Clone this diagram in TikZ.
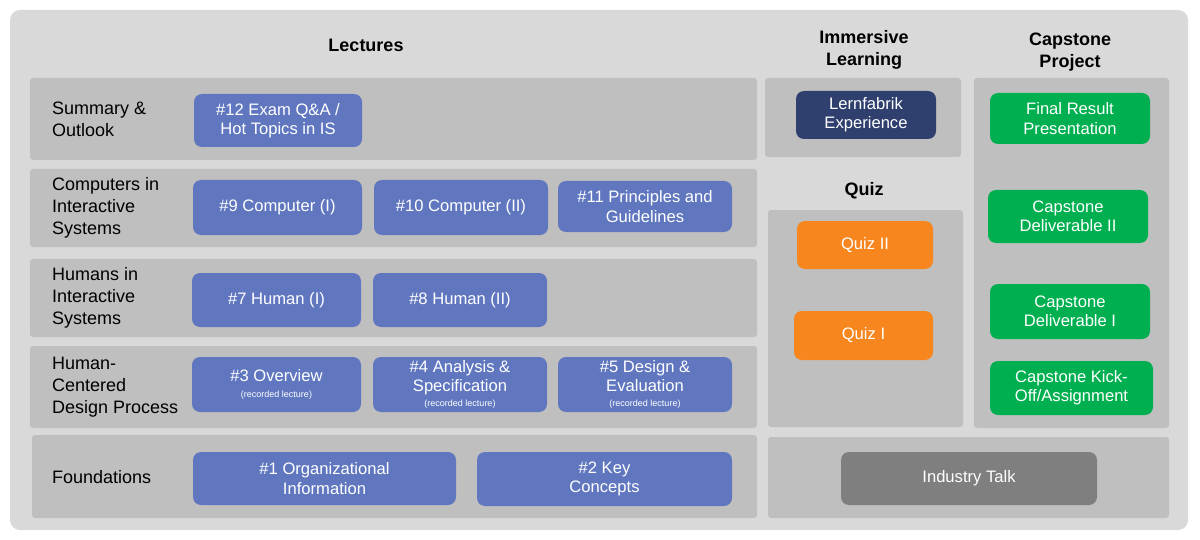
\documentclass[tikz,border=0pt]{standalone}
\usepackage{fontspec}
\setmainfont{Liberation Sans}
\begin{document}
\begin{tikzpicture}[x=0.5pt,y=-0.5pt,
 band/.style={fill=bandgray,draw=none,rounded corners=1.5pt},
 boxs/.style={draw=none,rounded corners=3pt,text=white,align=center,font=\fontsize{8.3}{9.6}\selectfont},
 lbl/.style={anchor=west,align=left,font=\fontsize{9}{11}\selectfont},
 hdr/.style={align=center,font=\bfseries\fontsize{9}{11}\selectfont}]
\definecolor{bg}{HTML}{D9D9D9}
\definecolor{bandgray}{HTML}{BFBFBF}
\definecolor{blu}{HTML}{6077C0}
\definecolor{navy}{HTML}{2F3F6E}
\definecolor{org}{HTML}{F7861E}
\definecolor{grn}{HTML}{00B050}
\definecolor{dg}{HTML}{7F7F7F}
\newcommand{\rl}{\\[-2pt]{\fontsize{4.5}{5}\selectfont(recorded lecture)}}
\useasboundingbox (0,0) rectangle (1200,540);
\fill[white] (0,0) rectangle (1200,540);
\fill[bg,rounded corners=5pt] (10,10) rectangle (1188,530);
\node[hdr] (hL) at (366,45) {Lectures};
\node[hdr] (hI) at (864,50) {Immersive\\Learning};
\node[hdr] (hC) at (1070,52) {Capstone\\Project};
\node[hdr] (hQ) at (864,191) {Quiz};
\fill[band] (30,78) rectangle (757,160);
\fill[band] (30,169) rectangle (757,247);
\fill[band] (30,259) rectangle (757,337);
\fill[band] (30,346) rectangle (757,428);
\fill[band] (32,435) rectangle (757,518);
\fill[band] (765,78) rectangle (961,157);
\fill[band] (768,210) rectangle (963,427);
\fill[band] (974,78) rectangle (1169,428);
\fill[band] (768,437) rectangle (1169,518);
\node[lbl] (l1) at (45,119) {Summary \&\\Outlook};
\node[lbl] (l2) at (45,208) {Computers in\\Interactive\\Systems};
\node[lbl] (l3) at (45,298) {Humans in\\Interactive\\Systems};
\node[lbl] (l4) at (45,387) {Human-\\Centered\\Design Process};
\node[lbl] (l5) at (45,477) {Foundations};
\newcommand{\bx}[7]{\fill[#1,rounded corners=4pt] (#3,#4) rectangle (#5,#6);
 \node[boxs] (#2) at ({(#3+#5)/2},{(#4+#6)/2}) {#7};}
\bx{blu}{b12}{194}{94}{362}{147}{\#12 Exam Q\&A /\\Hot Topics in IS}
\bx{blu}{b9}{193}{180}{362}{235}{\#9 Computer (I)}
\bx{blu}{b10}{374}{180}{548}{235}{\#10 Computer (II)}
\bx{blu}{b11}{558}{181}{732}{232}{\#11 Principles and\\Guidelines}
\bx{blu}{b7}{192}{273}{361}{327}{\#7 Human (I)}
\bx{blu}{b8}{373}{273}{547}{327}{\#8 Human (II)}
\bx{blu}{b3}{192}{357}{361}{412}{\#3 Overview\rl}
\bx{blu}{b4}{373}{357}{547}{412}{\#4 Analysis \&\\Specification\rl}
\bx{blu}{b5}{558}{357}{732}{412}{\#5 Design \&\\Evaluation\rl}
\bx{blu}{b1}{193}{452}{456}{505}{\#1 Organizational\\Information}
\bx{blu}{b2}{477}{452}{732}{506}{\#2 Key\\Concepts}
\bx{navy}{lf}{796}{91}{936}{139}{Lernfabrik\\Experience}
\bx{org}{q2}{797}{221}{933}{269}{Quiz II}
\bx{org}{q1}{794}{311}{933}{360}{Quiz I}
\bx{grn}{c4}{990}{93}{1150}{144}{Final Result\\Presentation}
\bx{grn}{c3}{988}{190}{1148}{243}{Capstone\\Deliverable II}
\bx{grn}{c2}{990}{284}{1150}{339}{Capstone\\Deliverable I}
\bx{grn}{c1}{990}{361}{1153}{415}{Capstone Kick-\\Off/Assignment}
\bx{dg}{it}{841}{452}{1097}{505}{Industry Talk}
\end{tikzpicture}
\end{document}
